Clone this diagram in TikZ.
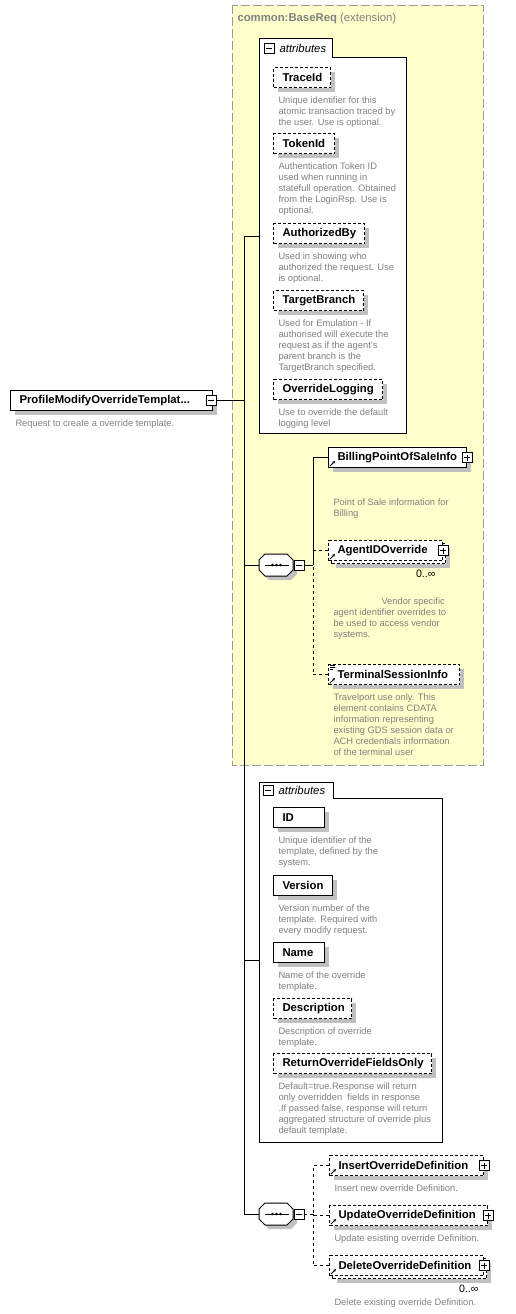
\documentclass[tikz,border=0pt]{standalone}
\usepackage{fontspec}
\setmainfont{Liberation Sans}
\usepackage{tikz}
\usetikzlibrary{
  arrows.meta,
  positioning,
  calc,
  shadows
}
\definecolor{amarelo}{HTML}{FFFFCC}
\definecolor{cinzaborda}{HTML}{999999}
\definecolor{cinzatexto}{HTML}{808080}
\definecolor{cinzasombra}{HTML}{C0C0C0}

\begin{document}
\begin{tikzpicture}[
      x=0.75pt, y=-0.75pt,
      line width=0.75pt,
      caixa/.style={draw, fill=white, anchor=north west, inner xsep=6.75pt, inner ysep=0pt, text width={#1*0.75pt-13.5pt}, align=left, minimum height=15pt, font=\fontsize{8.5}{10}\selectfont\bfseries},
      sombra/.style={general shadow={fill=cinzasombra, shadow xshift=3pt, shadow yshift=-3pt}},
      tracejado/.style={dash pattern=on 2.25pt off 1.5pt},
      elemento/.style={caixa=#1, sombra},
      opcional/.style={caixa=#1, sombra, tracejado},
      descricao/.style={font=\fontsize{7}{8.25}\selectfont, text=cinzatexto, align=left, inner sep=0pt},
      rotulo/.style={font=\fontsize{8.5}{10}\selectfont\itshape, inner sep=0pt, anchor=west},
      cardinal/.style={font=\fontsize{8}{9}\selectfont, inner sep=0pt},
      menos/.style={draw, fill=white, line width=0.6pt, minimum size=7.5pt, inner sep=0pt,
        path picture={\draw ([xshift=1.5pt]path picture bounding box.west) -- ([xshift=-1.5pt]path picture bounding box.east);}},
      mais/.style={menos,
        path picture={\draw ([xshift=1.5pt]path picture bounding box.west) -- ([xshift=-1.5pt]path picture bounding box.east);
          \draw ([yshift=1.5pt]path picture bounding box.south) -- ([yshift=-1.5pt]path picture bounding box.north);}},
      sequencia/.style={minimum width=25.5pt, minimum height=15.75pt, inner sep=0pt, anchor=west},
      octogono/.style={draw, fill=white, sombra},
      ligacao/.style={draw=black, line width=0.75pt},
      ligopc/.style={ligacao, dash pattern=on 2.25pt off 2.25pt},
      refseta/.style={-{Stealth[length=2.2pt, width=2.2pt]}, line width=0.6pt}
  ]
    \useasboundingbox (0,0) rectangle (515,1314);

    % Extensao common:BaseReq
    \draw[draw=cinzaborda, fill=amarelo, dash pattern=on 6.75pt off 2.25pt] (232,5) rectangle (483,765);
    \node[anchor=west, text=cinzatexto, font=\fontsize{8.5}{10}\selectfont, inner sep=0pt] (base) at (237,19) {\textbf{common:BaseReq} (extension)};

    % Elemento raiz
    \node[elemento=202] (raiz) at (10,390) {ProfileModifyOverrideTemplat...};
    \node[menos] (raizpm) at (211,400) {};
    \node[descricao, below=6pt of raiz.south west, anchor=north west, xshift=3.75pt] (raizdesc) {Request to create a override template.};

    % Atributos herdados
    \draw[fill=white] (259,38) -- (332,38) -- (332,57) -- (406,57) -- (406,433) -- (259,433) -- cycle;
    \node[menos] (attr1pm) at (269,48) {};
    \node[rotulo, right=3.5pt of attr1pm] (attr1rot) {attributes};
    \coordinate (attr1) at (259,236);

    \node[opcional=57] (trace) at (273,67) {TraceId};
    \node[descricao, below=6pt of trace.south west, anchor=north west, xshift=3.75pt] (tracedesc) {Unique identifier for this\\atomic transaction traced by\\the user. Use is optional.};
    \node[opcional=61] (token) at (273,133) {TokenId};
    \node[descricao, below=6pt of token.south west, anchor=north west, xshift=3.75pt] (tokendesc) {Authentication Token ID\\used when running in\\statefull operation. Obtained\\from the LoginRsp. Use is\\optional.};
    \node[opcional=91] (authby) at (273,223) {AuthorizedBy};
    \node[descricao, below=6pt of authby.south west, anchor=north west, xshift=3.75pt] (authbydesc) {Used in showing who\\authorized the request. Use\\is optional.};
    \node[opcional=90] (target) at (273,290) {TargetBranch};
    \node[descricao, below=6pt of target.south west, anchor=north west, xshift=3.75pt] (targetdesc) {Used for Emulation - If\\authorised will execute the\\request as if the agent's\\parent branch is the\\TargetBranch specified.};
    \node[opcional=109] (logging) at (273,379) {OverrideLogging};
    \node[descricao, below=6pt of logging.south west, anchor=north west, xshift=3.75pt] (loggingdesc) {Use to override the default\\logging level};

    % Sequencia herdada
    \node[sequencia] (seq1) at (259,565) {};
    \draw[octogono] ($(seq1.west)+(0,-5)$) -- ++(6,-6) -- ++(22,0) -- ++(6,6) -- ++(0,10) -- ++(-6,6) -- ++(-22,0) -- ++(-6,-6) -- cycle;
    \draw ($(seq1.center)+(-12,0)$) -- ($(seq1.center)+(12,0)$);
    \fill ($(seq1.center)+(-4,0)$) circle (1.1pt) (seq1.center) circle (1.1pt) ($(seq1.center)+(4,0)$) circle (1.1pt);
    \node[menos] (seq1pm) at (299,565) {};
    \coordinate (s1) at (313,565);

    \node[elemento=138] (billing) at (328,447) {BillingPointOfSaleInfo};
    \node[mais] (billingpm) at (billing.east) {};
    \node[descricao, below=23pt of billing.south west, anchor=north west, xshift=3.75pt] (billingdesc) {Point of Sale information for\\Billing};

    \node[caixa=114, sombra, tracejado] (agentb) at (331,543) {};
    \node[caixa=114, tracejado] (agent) at (328,540) {AgentIDOverride};
    \node[mais] (agentpm) at (agent.east) {};
    \node[cardinal, anchor=north east] (agentcard) at ($(agent.south east)+(-7,9)$) {0..∞};
    \node[descricao, below=27pt of agent.south west, anchor=north west, xshift=3.75pt] (agentdesc) {\hspace*{36pt}Vendor specific\\agent identifier overrides to\\be used to access vendor\\systems.};

    \node[opcional=131] (terminal) at (328,664) {TerminalSessionInfo};
    \node[descricao, below=6pt of terminal.south west, anchor=north west, xshift=3.75pt] (terminaldesc) {Travelport use only. This\\element contains CDATA\\information representing\\existing GDS session data or\\ACH credentials information\\of the terminal user};

    % Atributos proprios
    \draw[fill=white] (259,782) -- (333,782) -- (333,798) -- (442,798) -- (442,1142) -- (259,1142) -- cycle;
    \node[menos] (attr2pm) at (268,790) {};
    \node[rotulo, right=3.5pt of attr2pm] (attr2rot) {attributes};
    \coordinate (attr2) at (259,960);

    \node[elemento=51] (id) at (273,807) {ID};
    \node[descricao, below=6pt of id.south west, anchor=north west, xshift=3.75pt] (iddesc) {Unique identifier of the\\template, defined by the\\system.};
    \node[elemento=59] (version) at (273,875) {Version};
    \node[descricao, below=6pt of version.south west, anchor=north west, xshift=3.75pt] (versiondesc) {Version number of the\\template. Required with\\every modify request.};
    \node[elemento=51] (name) at (273,942) {Name};
    \node[descricao, below=6pt of name.south west, anchor=north west, xshift=3.75pt] (namedesc) {Name of the override\\template.};
    \node[opcional=78] (descr) at (273,998) {Description};
    \node[descricao, below=6pt of descr.south west, anchor=north west, xshift=3.75pt] (descrdesc) {Description of override\\template.};
    \node[opcional=158] (retonly) at (273,1053) {ReturnOverrideFieldsOnly};
    \node[descricao, below=6pt of retonly.south west, anchor=north west, xshift=3.75pt] (retonlydesc) {Default=true.Response will return\\only overridden\ \ fields in response\\.If passed false, response will return\\aggregated structure of override plus\\default template.};

    % Sequencia propria
    \node[sequencia] (seq2) at (259,1214) {};
    \draw[octogono] ($(seq2.west)+(0,-5)$) -- ++(6,-6) -- ++(22,0) -- ++(6,6) -- ++(0,10) -- ++(-6,6) -- ++(-22,0) -- ++(-6,-6) -- cycle;
    \draw ($(seq2.center)+(-12,0)$) -- ($(seq2.center)+(12,0)$);
    \fill ($(seq2.center)+(-4,0)$) circle (1.1pt) (seq2.center) circle (1.1pt) ($(seq2.center)+(4,0)$) circle (1.1pt);
    \node[menos] (seq2pm) at (299,1214) {};
    \coordinate (s2) at (313,1214);

    \node[opcional=154] (insert) at (329,1155) {InsertOverrideDefinition};
    \node[mais] (insertpm) at (insert.east) {};
    \node[descricao, below=6pt of insert.south west, anchor=north west, xshift=3.75pt] (insertdesc) {Insert new override Definition.};
    \node[opcional=158] (update) at (329,1205) {UpdateOverrideDefinition};
    \node[mais] (updatepm) at (update.east) {};
    \node[descricao, below=6pt of update.south west, anchor=north west, xshift=3.75pt] (updatedesc) {Update esisting override Definition.};
    \node[caixa=154, sombra, tracejado] (deleteb) at (332,1258) {};
    \node[caixa=154, tracejado] (delete) at (329,1255) {DeleteOverrideDefinition};
    \node[mais] (deletepm) at (delete.east) {};
    \node[cardinal, anchor=north east] (deletecard) at ($(delete.south east)+(-5,9)$) {0..∞};
    \node[descricao, below=16.5pt of delete.south west, anchor=north west, xshift=3.75pt] (deletedesc) {Delete existing override Definition.};

    % Icones de referencia
    \draw[refseta] ($(billing.south west)+(2,-2)$) -- ++(5,-5);
    \draw[refseta] ($(agent.south west)+(2,-2)$) -- ++(5,-5);
    \draw[refseta] ($(terminal.south west)+(2,-2)$) -- ++(5,-5);
    \draw[refseta] ($(insert.south west)+(2,-2)$) -- ++(5,-5);
    \draw[refseta] ($(update.south west)+(2,-2)$) -- ++(5,-5);
    \draw[refseta] ($(delete.south west)+(2,-2)$) -- ++(5,-5);
    \draw[line width=0.5pt] ($(terminal.north west)+(2,1)$) -- ++(5,0) ($(terminal.north west)+(2,3)$) -- ++(5,0) ($(terminal.north west)+(2,5)$) -- ++(3,0);

    % Ligacoes
    \coordinate (tronco) at (244,400);
    \draw[ligacao] (raizpm.east) -- (tronco);
    \draw[ligacao] (attr1) -| (tronco);
    \draw[ligacao] (seq1.west) -| (tronco);
    \draw[ligacao] (attr2) -| (tronco);
    \draw[ligacao] (seq2.west) -| (tronco);

    \draw[ligacao] (seq1pm.east) -- (s1);
    \draw[ligacao] (billing.west) -| (s1);
    \draw[ligopc] (agent.west) -| (s1);
    \draw[ligopc] (terminal.west) -| (s1);

    \draw[ligopc] (seq2pm.east) -- (s2);
    \draw[ligopc] (insert.west) -| (s2);
    \draw[ligopc] (update.west) -| (s2);
    \draw[ligopc] (delete.west) -| (s2);
  \end{tikzpicture}
\end{document}
